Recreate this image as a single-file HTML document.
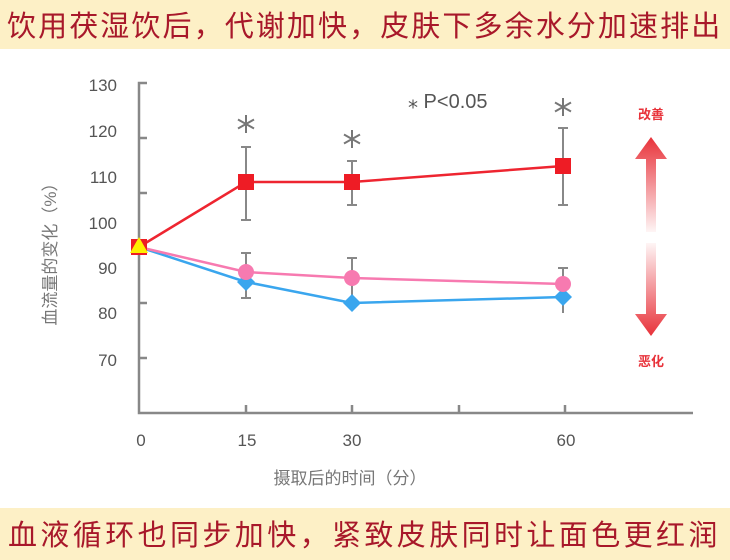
<!DOCTYPE html>
<html><head><meta charset="utf-8"><style>
body{margin:0;width:730px;height:560px;background:#fff;overflow:hidden;font-family:"Liberation Sans","Noto Sans CJK SC",sans-serif;position:relative}
.ban{position:absolute;left:0;width:730px;background:#fdf0c6;color:#a8182a;font-size:29px;white-space:nowrap;font-family:"Noto Sans CJK SC",sans-serif}
</style></head><body>
<div class="ban" style="top:0;height:49px;line-height:49px;padding-left:7px;letter-spacing:2.1px">饮用茯湿饮后，代谢加快，皮肤下多余水分加速排出</div>
<div class="ban" style="top:508px;height:52px;line-height:50px;padding-left:8px;letter-spacing:3.4px">血液循环也同步加快，紧致皮肤同时让面色更红润</div>
<svg width="730" height="560" style="position:absolute;left:0;top:0" font-family="Liberation Sans, Noto Sans CJK SC, sans-serif">
<defs>
<linearGradient id="gu" x1="0" y1="0" x2="0" y2="1"><stop offset="0" stop-color="#e8323a"/><stop offset="1" stop-color="#e8323a" stop-opacity="0.05"/></linearGradient>
<linearGradient id="gd" x1="0" y1="1" x2="0" y2="0"><stop offset="0" stop-color="#e8323a"/><stop offset="1" stop-color="#e8323a" stop-opacity="0.05"/></linearGradient>
</defs>
<g stroke="#888" stroke-width="2.5" fill="none">
<path d="M147 83 H139 V413 H693"/>
<path d="M139 138h8M139 193h8M139 248h8M139 303h8M139 358h8"/>
<path d="M246 413v-8M352 413v-8M459 413v-8M565 413v-8"/>
</g>
<g font-size="17" fill="#555" text-anchor="end">
<text x="117" y="91">130</text><text x="117" y="137">120</text><text x="117" y="183">110</text><text x="117" y="229">100</text><text x="117" y="274">90</text><text x="117" y="319">80</text><text x="117" y="366">70</text>
</g>
<g font-size="17" fill="#555" text-anchor="middle">
<text x="141" y="446">0</text><text x="247" y="446">15</text><text x="352" y="446">30</text><text x="566" y="446">60</text>
</g>
<text x="350" y="484" font-size="17" fill="#777" text-anchor="middle">摄取后的时间（分）</text>
<text transform="translate(56 250) rotate(-90)" font-size="17" fill="#777" text-anchor="middle">血流量的变化（%）</text>
<g stroke="#888" stroke-width="2">
<path d="M246 147v73M241 147h10M241 220h10M352 161v44M347 161h10M347 205h10M563 128v77M558 128h10M558 205h10"/>
<path d="M246 253v45M241 253h10M241 298h10M352 258v45M347 258h10M563 268v45M558 268h10"/>
</g>
<g stroke="#777" stroke-width="2" fill="none">
<path d="M246 115v18M238 119.5l16 9M238 128.5l16-9"/>
<path d="M352 130v18M344 134.5l16 9M344 143.5l16-9"/>
<path d="M563 98v18M555 102.5l16 9M555 111.5l16-9"/>
</g>
<text x="408" y="108" font-size="20" fill="#555">⁎ P&lt;0.05</text>
<polyline points="139,247 246,282 352,303 563,297" fill="none" stroke="#3aa6ee" stroke-width="2.5"/>
<polyline points="139,247 246,272 352,278 563,284" fill="none" stroke="#f77ab0" stroke-width="2.5"/>
<polyline points="139,247 246,182 352,182 563,166" fill="none" stroke="#ee2530" stroke-width="2.5"/>
<g fill="#3aa6ee"><path d="M246 273l9 9-9 9-9-9z"/><path d="M352 294l9 9-9 9-9-9z"/><path d="M563 288l9 9-9 9-9-9z"/></g>
<g fill="#f77ab0"><circle cx="246" cy="272" r="8"/><circle cx="352" cy="278" r="8"/><circle cx="563" cy="284" r="8"/></g>
<g fill="#ee1c25"><rect x="238" y="174" width="16" height="16"/><rect x="344" y="174" width="16" height="16"/><rect x="555" y="158" width="16" height="16"/><rect x="131" y="239" width="16" height="16"/></g>
<path d="M139 237l9 16h-18z" fill="#ffee00"/>
<path d="M651 137l16 22h-11v73h-10v-73h-11z" fill="url(#gu)"/>
<path d="M651 336l16-22h-11v-71h-10v71h-11z" fill="url(#gd)"/>
<text x="651" y="119" font-size="13" font-weight="bold" fill="#e8323a" text-anchor="middle">改善</text>
<text x="651" y="366" font-size="13" font-weight="bold" fill="#e8323a" text-anchor="middle">恶化</text>
</svg>
</body></html>
